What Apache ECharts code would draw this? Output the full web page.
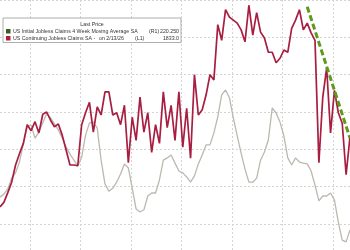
<!DOCTYPE html>
<html><head><meta charset="utf-8">
<script src="https://cdn.jsdelivr.net/npm/echarts@6/dist/echarts.min.js"></script>
<style>html,body{margin:0;padding:0;background:#fff}#c{width:350px;height:250px}</style>
</head><body><div id="c"></div>
<script>
// weekly observations (index = week)
const weeks = Array.from({length: 91}, (_, i) => 'W' + i);
// US Continuing Jobless Claims SA (thousands, L1)
const continuingClaims = [1723,1729,1742,1756,1779,1794,1808,1833,1825,1837,1822,1847,1850,1839,1830,1834,1819,1799,1779,1779,
  1778,1833,1849,1863,1823,1857,1846,1877,1877,1846,1849,1833,1859,1782,1843,1812,1870,1823,1849,1796,
  1833,1808,1877,1829,1859,1812,1877,1803,1855,1788,1900,1846,1853,1873,1900,1893,1967,1946,1987,1977,
  1973,1969,1960,1944,1993,1953,1983,1957,1949,1930,1930,1916,1922,1933,1930,1962,1973,1987,1960,1969,
  1956,1946,1782,1870,1909,1822,1879,1849,1835,1766,1817];
// US Initial Jobless Claims 4 Week Moving Average SA (thousands, R1)
const initialClaims4wma = [227.2,228.0,229.4,232.3,233.7,236.6,241.4,246.2,246.5,243.0,244.6,247.1,249.5,248.4,246.8,245.2,243.0,240.6,238.7,237.1,
  235.5,237.9,243.8,247.1,247.3,245.7,237.1,230.7,228.8,229.6,231.2,233.4,236.1,235.0,229.6,224.0,223.2,223.8,227.5,228.3,
  228.3,231.8,237.1,237.7,238.5,236.3,234.2,233.7,232.6,231.2,232.9,236.1,238.5,241.2,241.2,244.4,248.7,254.6,255.9,253.8,
  248.4,243.6,239.0,234.7,231.2,231.2,232.3,237.1,239.3,242.5,251.1,249.7,247.3,243.6,237.7,235.8,237.7,236.6,236.3,236.1,
  234.2,230.4,226.2,227.5,227.5,228.3,226.4,220.5,215.7,215.2,218.4];
// trend annotation on continuing claims
const trendWeeks = [79, 90];
const trendValues = [1991, 1815];
// legend
const legendTitle = 'Last Price';
const legendRows = [
  {name: 'US Initial Jobless Claims 4 Week Moving Average SA', extra: '', axis: '(R1)', last: '220.250', color: '#35601f'},
  {name: 'US Continuing Jobless Claims SA -', extra: 'on 2/13/26', axis: '(L1)', last: '1833.0', color: '#b01e3c'}
];

const trendData = weeks.map(() => null);
trendWeeks.forEach((w, k) => {
  trendData[w] = {value: trendValues[k], symbol: k === 0 ? 'circle' : 'none', symbolSize: 4};
});

const chart = echarts.init(document.getElementById('c'), null, {renderer: 'canvas'});
const font = 'Liberation Sans';
const fs = 5.25;
const graphic = [
  {type: 'rect', shape: {x: 3, y: 18, width: 178, height: 24.5}, style: {fill: '#fff', stroke: '#9a9a9a', lineWidth: 0.8}, z: 100},
  {type: 'text', x: 92, y: 25, style: {text: legendTitle, font: fs + 'px "' + font + '"', fill: '#333', align: 'center', verticalAlign: 'middle'}, z: 101}
];
legendRows.forEach((r, k) => {
  const y = 31.2 + k * 7;
  graphic.push({type: 'rect', shape: {x: 6, y: y - 2.2, width: 4.5, height: 4.5}, style: {fill: r.color}, z: 101});
  graphic.push({type: 'text', x: 13, y: y, style: {text: r.name, font: fs + 'px "' + font + '"', fill: '#333', verticalAlign: 'middle'}, z: 101});
  if (r.extra) graphic.push({type: 'text', x: 99, y: y, style: {text: r.extra, font: fs + 'px "' + font + '"', fill: '#333', verticalAlign: 'middle'}, z: 101});
  graphic.push({type: 'text', x: k === 0 ? 149 : 135, y: y, style: {text: r.axis, font: fs + 'px "' + font + '"', fill: '#333', verticalAlign: 'middle'}, z: 101});
  graphic.push({type: 'text', x: 179, y: y, style: {text: r.last, font: fs + 'px "' + font + '"', fill: '#333', align: 'right', verticalAlign: 'middle'}, z: 101});
});

const splitStyle = {show: true, lineStyle: {color: '#d4d4d4', width: 1, type: [2, 2]}};
chart.setOption({
  animation: false,
  backgroundColor: '#fff',
  grid: [
    {left: 0, top: 0, width: 350, height: 261.33, outerBoundsMode: 'none', containLabel: false},
    {left: -20.5, top: 0, width: 404, height: 250, outerBoundsMode: 'none', containLabel: false}
  ],
  xAxis: [
    {type: 'category', gridIndex: 0, data: weeks, boundaryGap: false, show: true,
     axisLine: {show: false}, axisTick: {show: false}, axisLabel: {show: false}, splitLine: {show: false}},
    {type: 'value', gridIndex: 1, min: 0, max: 104, interval: 13,
     axisLine: {show: false}, axisTick: {show: false}, axisLabel: {show: false}, splitLine: splitStyle}
  ],
  yAxis: [
    {type: 'value', gridIndex: 0, min: 1650, max: 2000, interval: 50, position: 'left',
     axisLine: {show: false}, axisTick: {show: false}, axisLabel: {show: false}, splitLine: splitStyle},
    {type: 'value', gridIndex: 0, min: 210, max: 280, interval: 10, position: 'right',
     axisLine: {show: false}, axisTick: {show: false}, axisLabel: {show: false}, splitLine: {show: false}},
    {type: 'value', gridIndex: 1, min: 0, max: 1, show: false, splitLine: {show: false}}
  ],
  series: [
    {type: 'line', name: 'US Initial Jobless Claims 4WMA', xAxisIndex: 0, yAxisIndex: 1, data: initialClaims4wma,
     symbol: 'none', lineStyle: {color: '#bcb8b0', width: 1.3}, z: 2},
    {type: 'line', name: 'US Continuing Jobless Claims', xAxisIndex: 0, yAxisIndex: 0, data: continuingClaims,
     symbol: 'none', lineStyle: {color: '#a81e40', width: 1.7}, z: 3},
    {type: 'line', name: 'trend', xAxisIndex: 0, yAxisIndex: 0, data: trendData, connectNulls: true,
     itemStyle: {color: '#5e9a1e'}, lineStyle: {color: '#5e9a1e', width: 3, type: [6, 3]}, z: 4}
  ],
  graphic: graphic
});
</script></body></html>
